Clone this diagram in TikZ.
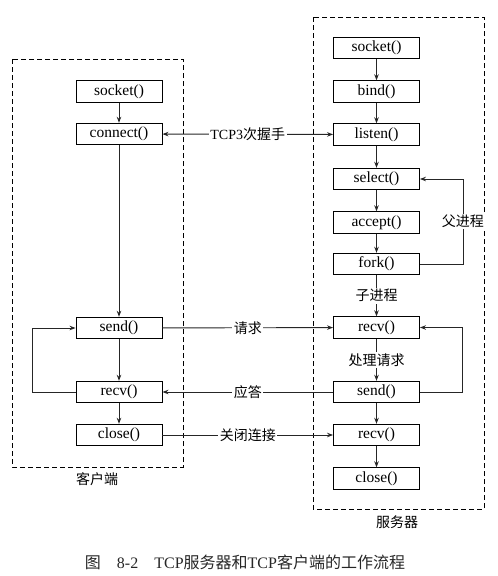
\documentclass[tikz,border=0pt]{standalone}
\usepackage{fontspec}
\setmainfont{Liberation Serif}
\newfontfamily\cjk{Noto Sans CJK SC}
\usetikzlibrary{arrows.meta}
\begin{document}
\begin{tikzpicture}[x=1pt,y=1pt,
  fn/.style={draw=black,line width=0.9pt,minimum width=86pt,minimum height=21.5pt,inner sep=0pt,font=\fontsize{15.5}{17}\selectfont},
  conn/.style={draw=black!85,line width=0.9pt,-{Stealth[length=6pt,width=4.5pt]}},
  lbl/.style={fill=white,inner sep=1.5pt,font=\fontsize{14}{16}\selectfont},
  grp/.style={draw=black,line width=0.8pt,dash pattern=on 5pt off 3pt}]
\useasboundingbox (0,0) rectangle (498,-576);
% group boxes
\draw[grp] (12,-59) rectangle (183,-467);
\draw[grp] (313,-17) rectangle (484,-509);
\node[lbl] (clientlbl) at (97,-479) {\cjk 客户端};
\node[lbl] (serverlbl) at (397,-522) {\cjk 服务器};
% client nodes
\node[fn] (csocket) at (119,-91.5) {socket()};
\node[fn] (cconnect) at (119,-134) {connect()};
\node[fn] (csend) at (119,-328) {send()};
\node[fn] (crecv) at (119,-392) {recv()};
\node[fn] (cclose) at (119,-435) {close()};
% server nodes
\node[fn] (ssocket) at (376.5,-48) {socket()};
\node[fn] (sbind) at (376.5,-91.5) {bind()};
\node[fn] (slisten) at (376.5,-134.5) {listen()};
\node[fn] (sselect) at (376.5,-179) {select()};
\node[fn] (saccept) at (376.5,-222.5) {accept()};
\node[fn] (sfork) at (376.5,-264) {fork()};
\node[fn] (srecv) at (376.5,-327.5) {recv()};
\node[fn] (ssend) at (376.5,-392) {send()};
\node[fn] (srecvb) at (376.5,-435) {recv()};
\node[fn] (sclose) at (376.5,-478.5) {close()};
% client flow
\draw[conn] (csocket) -- (cconnect);
\draw[conn] (cconnect) -- (csend);
\draw[conn] (csend) -- (crecv);
\draw[conn] (crecv) -- (cclose);
\draw[conn] (crecv.west) -- ++(-43,0) |- (csend.west);
% server flow
\draw[conn] (ssocket) -- (sbind);
\draw[conn] (sbind) -- (slisten);
\draw[conn] (slisten) -- (sselect);
\draw[conn] (sselect) -- (saccept);
\draw[conn] (saccept) -- (sfork);
\draw[conn] (sfork) -- node[lbl] (child) {\cjk 子进程} (srecv);
\draw[conn] (srecv) -- node[lbl] (proc) {\cjk 处理请求} (ssend);
\draw[conn] (ssend) -- (srecvb);
\draw[conn] (srecvb) -- (sclose);
\draw[conn] (sfork.east) -- ++(43,0) |- node[lbl,pos=0.25] (parent) {\cjk 父进程} (sselect.east);
\draw[conn] (ssend.east) -- ++(42,0) |- (srecv.east);
% between client and server
\draw[conn,{Stealth[length=6pt,width=4.5pt]}-{Stealth[length=6pt,width=4.5pt]}] (cconnect) -- node[lbl] (hs) {TCP3{\cjk 次握手}} (slisten);
\draw[conn] (csend) -- node[lbl] (req) {\cjk 请求} (srecv);
\draw[conn] (ssend) -- node[lbl] (resp) {\cjk 应答} (crecv);
\draw[conn] (cclose) -- node[lbl] (fin) {\cjk 关闭连接} (srecvb);
% caption
\node[font=\fontsize{16}{18}\selectfont,text=black!85] (caption) at (245,-562) {{\cjk 图}\quad 8-2\quad TCP{\cjk 服务器和}TCP{\cjk 客户端的工作流程}};
\end{tikzpicture}
\end{document}
